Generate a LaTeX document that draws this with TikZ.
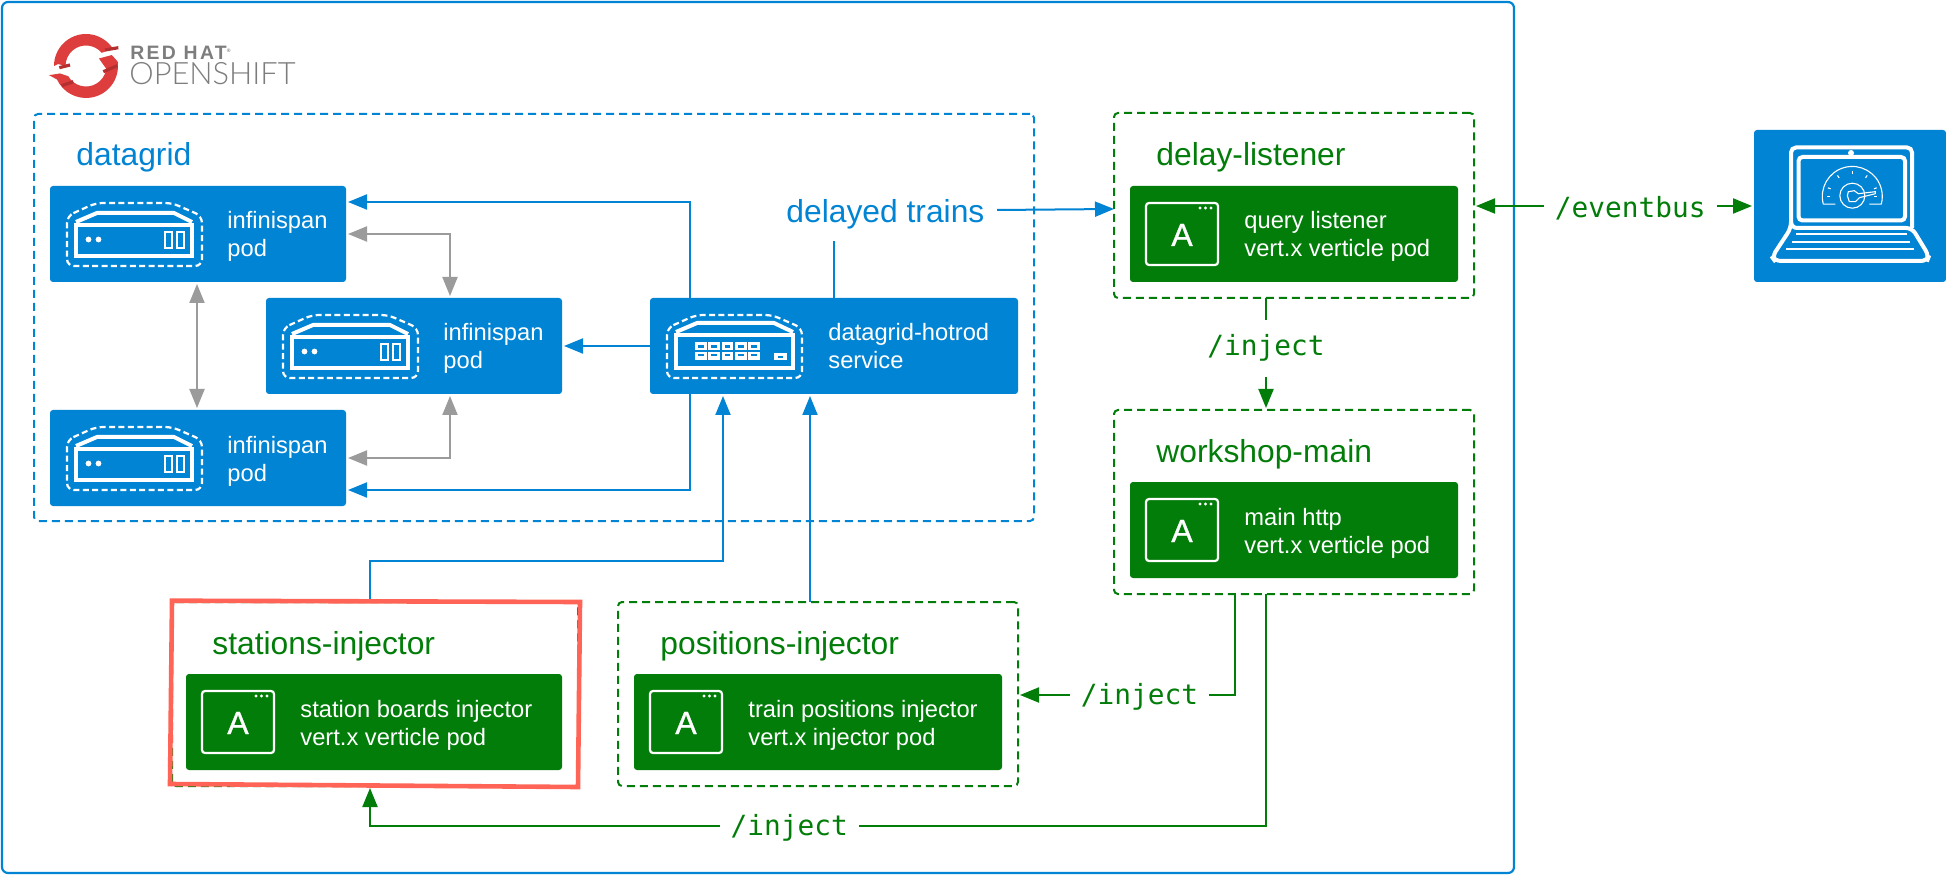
\documentclass[tikz,border=0pt]{standalone}
\usepackage{fontspec}
\setmainfont{Liberation Sans}
\newfontfamily\monof{DejaVu Sans Mono}
\newfontfamily\logob[LetterSpace=12]{Liberation Sans Bold}
\newfontfamily\logol{Lato Light}
\newfontfamily\afont[FakeBold=1]{Liberation Sans}
\usetikzlibrary{arrows.meta,calc}
\definecolor{rhblue}{RGB}{2,132,212}
\definecolor{rhgreen}{RGB}{3,125,10}
\definecolor{rhgrey}{RGB}{155,155,155}
\definecolor{rhred}{RGB}{255,100,86}
\definecolor{logored}{RGB}{221,61,61}
\definecolor{logodark}{RGB}{180,48,48}
\definecolor{logotext}{RGB}{125,125,125}
\tikzset{
  pxsize/.style 2 args={minimum width=#1*0.5pt,minimum height=#2*0.5pt,inner sep=0pt,outer sep=0pt,anchor=north west},
  bluebox/.style={fill=rhblue,rounded corners=1.5pt},
  greenbox/.style={fill=rhgreen,rounded corners=1.5pt},
  blueframe/.style={draw=rhblue,line width=1pt,dash pattern=on 4pt off 2.5pt,rounded corners=2pt},
  greenframe/.style={draw=rhgreen,line width=1pt,dash pattern=on 4pt off 2.5pt,rounded corners=2pt},
  tip/.style={-{Triangle[length=9.5pt,width=7.5pt]},shorten >=1pt},
  tips/.style={{Triangle[length=9.5pt,width=7.5pt]}-{Triangle[length=9.5pt,width=7.5pt]},shorten >=1pt,shorten <=1pt},
  blueline/.style={draw=rhblue,line width=1pt},
  greenline/.style={draw=rhgreen,line width=1pt},
  greyline/.style={draw=rhgrey,line width=1pt},
  podtext/.style={anchor=base west,inner sep=0pt,align=left,text=white,font=\fontsize{11.85}{14}\selectfont},
  titleblue/.style={anchor=base west,inner sep=0pt,text=rhblue,font=\fontsize{15.9}{18}\selectfont},
  titlegreen/.style={anchor=base west,inner sep=0pt,text=rhgreen,font=\fontsize{15.9}{18}\selectfont},
  path label/.style={fill=white,text=rhgreen,inner xsep=5.5pt,inner ysep=2pt,yshift=-1pt,font=\monof\fontsize{13.9}{16}\selectfont},
  outline/.pic={
    \draw[white,line width=1.1pt,dash pattern=on 3pt off 1.7pt,rounded corners=3.5pt]
      (17,30) -- (46,17) -- (122,17) -- (152,30) -- (152,80) -- (17,80) -- cycle;
  },
  serverglyph/.pic={
    \pic {outline};
    \draw[white,line width=2pt,line join=round] (26,36) -- (47,27) -- (124,27) -- (142,36);
    \draw[white,line width=2pt] (26,39) rectangle (142,70);
    \fill[white] (38.5,53.5) circle[radius=2.9] (48.5,53.5) circle[radius=2.9];
    \draw[white,line width=1pt] (115,46) rectangle (122,62) (127,46) rectangle (134,62);
  },
  switchglyph/.pic={
    \pic {outline};
    \draw[white,line width=2pt,line join=round] (26,34) -- (47,25) -- (124,25) -- (143,34);
    \draw[white,line width=2pt] (26,37) rectangle (143,70);
    \foreach \px in {45,58.3,71.6,85,98.3}{
      \fill[white] (\px,44) rectangle +(11.5,8);
      \fill[white] (\px,54) rectangle +(11.5,8);
      \fill[rhblue] (\px+3,47.5) rectangle +(5.5,2.5);
      \fill[rhblue] (\px+3,56) rectangle +(5.5,2.5);
    }
    \fill[white] (124,55) rectangle (137,62.5);
    \fill[rhblue] (128,58) rectangle (133,60.5);
  },
  appglyph/.pic={
    \draw[white,line width=1.1pt,rounded corners=1.5pt] (16,17) rectangle (88,79);
    \fill[white] (70,22) circle[radius=1.6] (75.5,22) circle[radius=1.6] (81,22) circle[radius=1.6];
    \node[anchor=base,inner sep=0pt,text=white,font=\afont\fontsize{16}{18}\selectfont] (letter) at (52,60) {A};
  },
  laptopglyph/.pic={
    \draw[white,line width=2pt,rounded corners=2.5pt] (37,98) -- (37,17.5) -- (158,17.5) -- (158,98);
    \draw[white,line width=2pt,rounded corners=2pt] (44.5,27) rectangle (151,90.5);
    \fill[white] (97,23) circle[radius=3];
    \draw[white,line width=2pt,rounded corners=3pt] (37,98) -- (37,98) -- (18,127) -- (21,131) -- (173,131) -- (175,126) -- (158,98) -- cycle;
    \draw[white,line width=1pt] (42,104.3) -- (152.7,104.3) (38.3,111.7) -- (156,111.7) (32.3,118.7) -- (160,118.7);
    \begin{scope}[shift={(98.3,66.7)},x=.5pt,y=.5pt,white,line width=.55pt]
      \draw (-29,-7.5) arc[start angle=195,end angle=-15,radius=30] -- (29,-7.5) -- (17,-7.5)
            (-17,-7.5) -- (-29,-7.5);
      \draw (0,1) circle[radius=12.5];
      \draw (-5,1) -- (-4,5) -- (2,6) -- (6,3) -- (23,5) -- (23,3) -- (7,-1) -- (3,-5) -- (-3,-5) -- cycle;
      \foreach \ang in {20,55,90,125,160}{\draw (\ang:26) -- (\ang:23);}
      \draw (-25,0) -- (-22,0) (22,0) -- (25,0);
    \end{scope}
  }
}
\begin{document}
\begin{tikzpicture}[x=0.5pt,y=-0.5pt]
\useasboundingbox (0,0) rectangle (1946,876);
\fill[white] (0,0) rectangle (1946,876);

% containers
\node[pxsize={1512}{871},draw=rhblue,line width=1.1pt,rounded corners=3pt] (cluster) at (2,2) {};
\node[pxsize={1000}{407},blueframe] (grid) at (34,114) {};
\node[pxsize={360}{185},greenframe] (dl) at (1114,113) {};
\node[pxsize={360}{184},greenframe] (wm) at (1114,410) {};
\node[pxsize={400}{184},greenframe] (pi) at (618,602) {};
\node[pxsize={406}{184},greenframe] (si) at (172,602) {};

% solid boxes
\node[pxsize={296}{96},bluebox] (inf1) at (50,186) {};
\node[pxsize={296}{96},bluebox] (inf2) at (266,298) {};
\node[pxsize={296}{96},bluebox] (inf3) at (50,410) {};
\node[pxsize={368}{96},bluebox] (svc) at (650,298) {};
\node[pxsize={328}{96},greenbox] (dlpod) at (1130,186) {};
\node[pxsize={328}{96},greenbox] (wmpod) at (1130,482) {};
\node[pxsize={368}{96},greenbox] (pipod) at (634,674) {};
\node[pxsize={376}{96},greenbox] (sipod) at (186,674) {};
\node[pxsize={192}{152},bluebox] (laptop) at (1754,130) {};

% glyphs
\pic (g1) at (50,186) {serverglyph};
\pic (g2) at (266,298) {serverglyph};
\pic (g3) at (50,410) {serverglyph};
\pic (g4) at (650,298) {switchglyph};
\pic (g5) at (1130,186) {appglyph};
\pic (g6) at (1130,482) {appglyph};
\pic (g7) at (634,674) {appglyph};
\pic (g8) at (186,674) {appglyph};
\pic (g9) at (1754,130) {laptopglyph};

% logo
\begin{scope}[shift={(86,66)},x=.5pt,y=.5pt]
  \fill[logored] (31:38) -- (40:20.5) arc[start angle=40,end angle=180,radius=20.5] -- (176:28) -- (180:32) arc[start angle=180,end angle=30,radius=32] -- cycle;
  \fill[logored] (8:32) arc[start angle=8,end angle=-155,radius=32] -- (194:38) -- (196:27) -- (210:20.5) arc[start angle=210,end angle=352,radius=20.5] -- (30:15) -- (23:28) -- cycle;
  \draw[logodark,line width=1.6pt] (19,16) -- (32.3,18.3) (-26.7,-1.7) -- (-16,1) (-24.3,-19.7) -- (-12.7,-15.7) (17.3,-5.7) -- (31.3,.3);
\end{scope}
\node[anchor=base west,inner sep=0pt,text=logotext,font=\logob\fontsize{9.7}{10}\selectfont] (redhat) at (130,60) {RED HAT\raisebox{3.5pt}{\fontsize{2.5}{3}\selectfont ®}};
\node[anchor=base west,inner sep=0pt,text=logotext,font=\logol\fontsize{15.4}{16}\selectfont] (openshift) at (129,85) {OPENSHIFT};

% texts
\node[titleblue] (tgrid) at (76,166) {datagrid};
\node[titleblue] (delayed) at (786,223) {delayed trains};
\node[titlegreen] (tdl) at (1156,166) {delay-listener};
\node[titlegreen] (twm) at (1156,462) {workshop-main};
\node[titlegreen] (tpi) at (660,654) {positions-injector};
\node[titlegreen] (tsi) at (212,654) {stations-injector};
\node[podtext] (tinf1) at (227,257) {infinispan\\pod};
\node[podtext] (tinf2) at (443,369) {infinispan\\pod};
\node[podtext] (tinf3) at (227,481) {infinispan\\pod};
\node[podtext] (tsvc) at (828,369) {datagrid-hotrod\\service};
\node[podtext] (tdlp) at (1244,257) {query listener\\vert.x verticle pod};
\node[podtext] (twmp) at (1244,553) {main http\\vert.x verticle pod};
\node[podtext] (tpip) at (748,745) {train positions injector\\vert.x injector pod};
\node[podtext] (tsip) at (300,745) {station boards injector\\vert.x verticle pod};

% route helpers
\coordinate (upy) at (690,202);
\coordinate (lowy) at (690,490);
\coordinate (midy) at (0,346);
\coordinate (g1y) at (450,234);
\coordinate (g3y) at (450,458);
\coordinate (gvx) at (197,0);
\coordinate (sup) at (370,561);
\coordinate (sin) at (723,0);
\coordinate (pin) at (810,0);
\coordinate (dtx) at (834,241);
\coordinate (dtout) at (997,210);
\coordinate (dtin) at (0,209);
\coordinate (ebus) at (0,206);
\coordinate (wmx) at (1266,0);
\coordinate (wmy) at (1235,695);
\coordinate (wmlow) at (370,826);

% blue connectors
\draw[blueline,tip] (svc.north -| upy) |- (inf1.east |- upy);
\draw[blueline,tip] (svc.south -| lowy) |- (inf3.east |- lowy);
\draw[blueline,tip] (svc.west |- midy) -- (inf2.east |- midy);
\draw[blueline,tip] (si.north -| sup) |- (sin |- sup) -- (svc.south -| sin);
\draw[blueline,tip] (pi.north -| pin) -- (svc.south -| pin);
\draw[blueline] (svc.north -| dtx) -- (dtx);
\draw[blueline,-{Triangle[length=9.5pt,width=7.5pt]}] (dtout) -- (dl.west |- dtin);

% grey connectors
\draw[greyline,tips] (inf1.east |- g1y) -| (inf2.north -| g1y);
\draw[greyline,tips] (inf3.east |- g3y) -| (inf2.south -| g3y);
\draw[greyline,tips] (inf1.south -| gvx) -- (inf3.north -| gvx);

% green connectors
\draw[greenline,tips] (dl.east |- ebus) -- node[path label,pos=.558] (leb) {/eventbus} (laptop.west |- ebus);
\draw[greenline,tip] (dl.south -| wmx) -- node[path label,inner ysep=7.5pt,pos=.43] (lin1) {/inject} (wm.north -| wmx);
\draw[greenline,tip] (wm.south -| wmy) |- node[path label,pos=.72] (lin2) {/inject} (pi.east |- wmy);
\draw[greenline,tip] (wm.south -| wmx) |- node[path label,pos=.766] (lin3) {/inject} (wmlow) -- (si.south -| wmlow);

% highlight
\draw[rhred,line width=2.3pt,miter limit=10] (172,600.7) -- (580,602) -- (578,787) -- (170,784) -- cycle;
\end{tikzpicture}
\end{document}
